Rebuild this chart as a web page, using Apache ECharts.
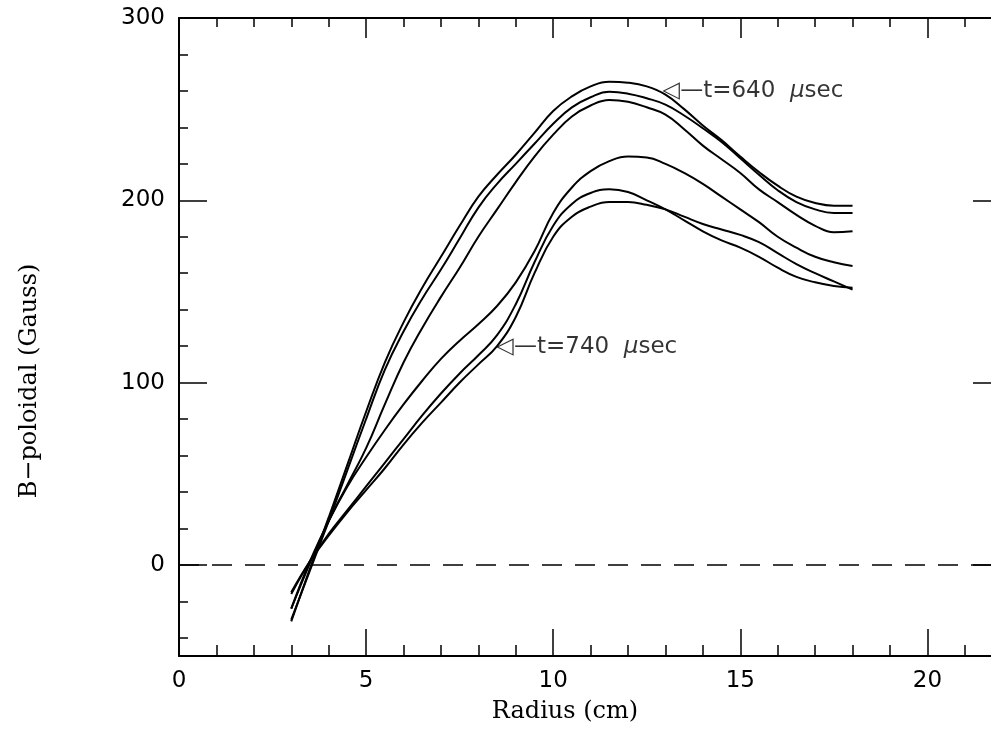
<!DOCTYPE html>
<html>
<head>
<meta charset="utf-8">
<script src="https://cdn.jsdelivr.net/npm/echarts@6/dist/echarts.min.js"></script>
<style>html,body{margin:0;background:#fff}#chart{width:991px;height:729px}</style>
</head>
<body>
<div id="chart"></div>
<script>
// radius (cm) sample points
var radius = [3,3.5,4,4.5,5,5.5,6,6.5,7,7.5,8,8.5,9,9.5,10,10.5,11,11.5,12,12.5,13,13.5,14,14.5,15,15.5,16,16.5,17,17.5,18];
// B-poloidal (Gauss), one profile per time
var t640 = [-31,-2,26,55,84,111,133,152,169,186,202,214,225,237,249,257,262.5,265,264.5,262.5,258,250,241,233,224,215.5,208,202,198.5,197,197];
var t660 = [-30,-3,24,52,80,107,128,146,162,179,196,209,220,231,242,251,256.5,259.5,258.5,256,252.5,246.5,239.5,232,223,214,205.5,199,195,193,193];
var t680 = [-24,1,24,44,64,88,111,130,147,163,180,195,210,224,236,246,252,255,254,251,247,239,230,222.5,215,206,199,192,186,182.5,183];
var t700 = [-24,2,24,43,59,74,88,101,113,123,132,142,155,172,193,207,216,221.5,224,223.5,220,215,209,202,195,188,180,174,169,166,164];
var t720 = [-16,2,17,30,43,56,69,82,94,105,115,126,143,166,186,198,204,206,204.5,200,195,189,183,178,174,169,163,158,155,153,152];
var t740 = [-15,2,16,29,41,53,66,78,89,100,110,120,136,160,180,191,196.5,199,199,197.5,195,191,187,184,181,177,171,165,160,155.5,151];

var xMajor = [0,5,10,15,20];
var xMinor = [1,2,3,4,6,7,8,9,11,12,13,14,16,17,18,19,21];
var yMajor = [0,100,200,300];
var yMinor = [-40,-20,20,40,60,80,120,140,160,180,220,240,260,280];

// annotation tips [radius, B]
var note640 = [12.92, 260];
var note740 = [8.48, 119.5];

var ink = '#000';
var tickFont = {fontFamily:'DejaVu Sans', fontSize:23, color:ink};

function xAx(pos, ticks, len, line, label) {
    return {
        type:'value', position:pos, min:0, max:21.7,
        axisLine:{show:line, onZero:false, lineStyle:{color:ink, width:2}},
        axisTick:{show:true, inside:true, length:len, customValues:ticks, lineStyle:{color:ink, width:1.5}},
        axisLabel: label ? Object.assign({customValues:xMajor, margin:14}, tickFont) : {show:false},
        splitLine:{show:false}
    };
}
function yAx(pos, ticks, len, line, label) {
    return {
        type:'value', position:pos, min:-50, max:300,
        axisLine:{show:line, onZero:false, lineStyle:{color:ink, width:2}},
        axisTick:{show:true, inside:true, length:len, customValues:ticks, lineStyle:{color:ink, width:1.5}},
        axisLabel: label ? Object.assign({customValues:yMajor, margin:14}, tickFont) : {show:false},
        splitLine:{show:false}
    };
}

var xAxes = [
    xAx('bottom', xMajor, 27, true, true),
    xAx('bottom', xMinor, 11, false, false),
    xAx('top', xMajor, 20, true, false),
    xAx('top', xMinor, 9, false, false)
];
xAxes[0].name = 'Radius (cm)';
xAxes[0].nameLocation = 'middle';
xAxes[0].nameGap = 44;
xAxes[0].nameTextStyle = {fontFamily:'DejaVu Serif', fontSize:24, color:ink, padding:[0,40,0,0]};

// right frame line sits just past the window edge, only its ticks show
var yAxes = [
    yAx('left', yMajor, 28, true, true),
    yAx('left', yMinor, 9, false, false),
    yAx('right', yMajor, 18, false, false)
];
yAxes[0].name = 'B\u2212poloidal (Gauss)';
yAxes[0].nameLocation = 'middle';
yAxes[0].nameGap = 137;
yAxes[0].nameTextStyle = {fontFamily:'DejaVu Serif', fontSize:24, color:ink, padding:[0,88,0,0]};

var curves = [t640, t660, t680, t700, t720, t740];
var names = ['t=640','t=660','t=680','t=700','t=720','t=740'];
var series = curves.map(function(c, k){
    return {
        name:names[k], type:'line', smooth:0.45, symbol:'none',
        data: radius.map(function(r, i){ return [r, c[i]]; }),
        lineStyle:{color:ink, width:2}
    };
});
series[0].markLine = {
    silent:true, symbol:['none','none'], label:{show:false},
    lineStyle:{color:ink, width:1.6, type:[20,13]},
    data:[{yAxis:0}]
};

function note(pt, t) {
    return {
        type:'scatter', data:[pt], symbolSize:0, itemStyle:{color:ink}, silent:true,
        label:{
            show:true, position:'right', distance:0, color:ink,
            formatter:'{a|\u25C1\u2014t=' + t + '  }{b|\u03BC}{a|sec}',
            rich:{
                a:{fontFamily:'DejaVu Sans', fontSize:23, color:ink},
                b:{fontFamily:'DejaVu Sans', fontSize:23, fontStyle:'italic', color:ink}
            }
        }
    };
}
series.push(note(note640, '640'));
series.push(note(note740, '740'));

var myChart = echarts.init(document.getElementById('chart'));
myChart.setOption({
    animation:false,
    backgroundColor:'#fff',
    grid:{left:179, top:18, right:0, height:640},
    xAxis: xAxes,
    yAxis: yAxes,
    series: series
});
</script>
</body>
</html>
